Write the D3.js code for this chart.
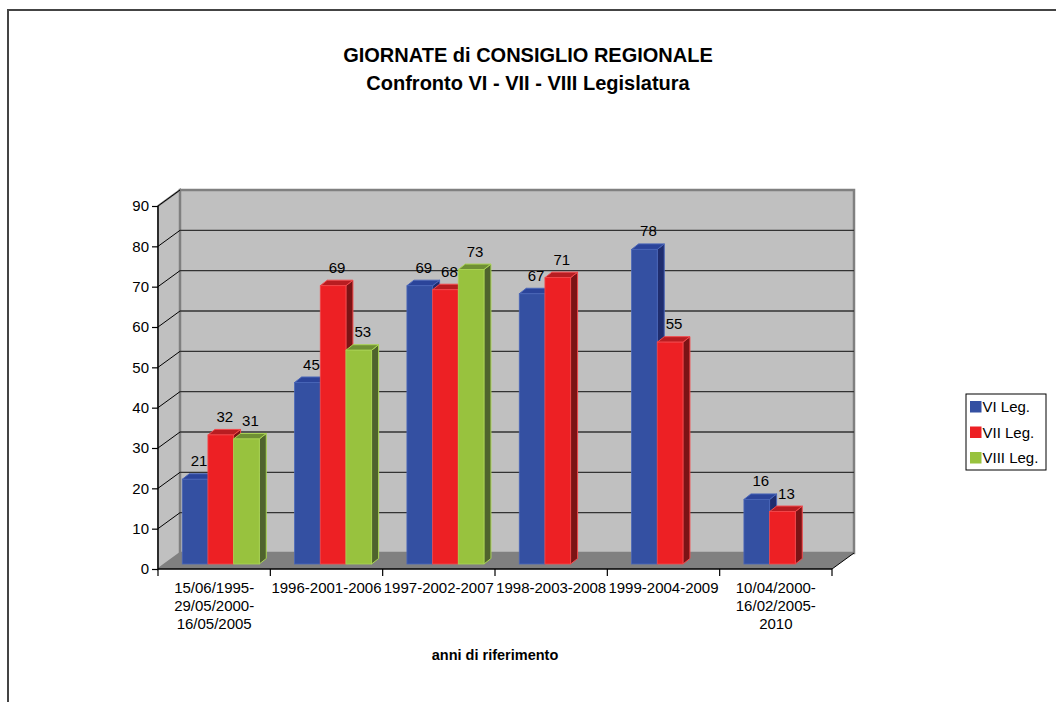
<!DOCTYPE html>
<html>
<head>
<meta charset="utf-8">
<script src="https://cdn.jsdelivr.net/npm/d3@7"></script>
<style>
  html, body { margin: 0; padding: 0; background: #fff; }
  svg { display: block; font-family: "Liberation Sans", Arial, sans-serif; }
</style>
</head>
<body>
<svg id="chart" width="1056" height="702"></svg>
<script>
// Data: days of regional council sittings per legislature
const categories = [
  ["15/06/1995-", "29/05/2000-", "16/05/2005"],
  ["1996-2001-2006"],
  ["1997-2002-2007"],
  ["1998-2003-2008"],
  ["1999-2004-2009"],
  ["10/04/2000-", "16/02/2005-", "2010"]
];
const seriesNames = ["VI Leg.", "VII Leg.", "VIII Leg."];
const seriesVI   = [21, 45, 69, 67, 78, 16];
const seriesVII  = [32, 69, 68, 71, 55, 13];
const seriesVIII = [31, 53, 73, null, null, null];
const yTicks = [0, 10, 20, 30, 40, 50, 60, 70, 80, 90];

const seriesValues = [seriesVI, seriesVII, seriesVIII];
const palette = [
  { front: "#3450a2", top: "#2b449a", side: "#1f2d6e", edge: "#4a66b8" },
  { front: "#ed2024", top: "#b81d21", side: "#7c1315", edge: "#f2494c" },
  { front: "#98c23e", top: "#6f8f34", side: "#4f632d", edge: "#aad454" }
];

const svg = d3.select("#chart");

// outer frame
svg.append("rect").attr("x", 8).attr("y", 10).attr("width", 1060).attr("height", 710)
  .attr("fill", "none").attr("stroke", "#444").attr("stroke-width", 2);

// title
const title = svg.append("text").attr("text-anchor", "middle")
  .attr("font-weight", "bold").attr("font-size", 20).attr("fill", "#000");
title.append("tspan").attr("x", 528).attr("y", 62).text("GIORNATE di CONSIGLIO REGIONALE");
title.append("tspan").attr("x", 528).attr("y", 90).text("Confronto VI - VII - VIII Legislatura");

// 3D plot geometry
const x0 = 158, x1 = 832;
const depth = { dx: 22, dy: -16 };     // wall depth
const barShift = { dx: 6.6, dy: -5 };  // bar row position inside the depth
const barDepth = { dx: 7, dy: -5.5 };  // bar thickness

const y = d3.scaleLinear().domain([0, 90]).range([569, 206]);
const xCat = d3.scaleBand().domain(d3.range(categories.length)).range([x0, x1]).padding(0);
const xSer = d3.scaleBand().domain(d3.range(seriesNames.length))
  .range([0, xCat.bandwidth()]).paddingInner(0).paddingOuter(0.688);

const g = svg.append("g");

// floor
g.append("polygon")
  .attr("points", [[x0, y(0)], [x1, y(0)], [x1 + depth.dx, y(0) + depth.dy], [x0 + depth.dx, y(0) + depth.dy]].join(" "))
  .attr("fill", "#808080");

// side wall
g.append("polygon")
  .attr("points", [[x0, y(0)], [x0, y(90)], [x0 + depth.dx, y(90) + depth.dy], [x0 + depth.dx, y(0) + depth.dy]].join(" "))
  .attr("fill", "#c0c0c0").attr("stroke", "#808080").attr("stroke-width", 2);

// back wall
g.append("rect")
  .attr("x", x0 + depth.dx).attr("y", y(90) + depth.dy)
  .attr("width", x1 - x0).attr("height", y(0) - y(90))
  .attr("fill", "#c0c0c0").attr("stroke", "#808080").attr("stroke-width", 2.5);

// gridlines on back wall and side wall
yTicks.filter(t => t > 0 && t < 90).forEach(t => {
  g.append("line")
    .attr("x1", x0 + depth.dx).attr("x2", x1 + depth.dx)
    .attr("y1", y(t) + depth.dy).attr("y2", y(t) + depth.dy)
    .attr("stroke", "#333").attr("stroke-width", 1.3);
});
yTicks.filter(t => t > 0).forEach(t => {
  g.append("line")
    .attr("x1", x0).attr("y1", y(t))
    .attr("x2", x0 + depth.dx).attr("y2", y(t) + depth.dy)
    .attr("stroke", "#000").attr("stroke-width", 1);
});

// floor back edge redraw
g.append("line")
  .attr("x1", x0 + depth.dx).attr("x2", x1 + depth.dx)
  .attr("y1", y(0) + depth.dy).attr("y2", y(0) + depth.dy)
  .attr("stroke", "#808080").attr("stroke-width", 1);

// bars
const bars = [];
categories.forEach((c, ci) => {
  seriesValues.forEach((vals, si) => {
    const v = vals[ci];
    if (v == null) return;
    bars.push({ ci, si, v });
  });
});

const barG = g.append("g");
bars.forEach(b => {
  const col = palette[b.si];
  const bx = xCat(b.ci) + xSer(b.si) + barShift.dx;
  const bw = xSer.bandwidth();
  const yb = y(0) + barShift.dy;
  const yt = y(b.v) + barShift.dy;
  const dx = barDepth.dx, dy = barDepth.dy;
  const bg = barG.append("g");
  // side face
  bg.append("polygon")
    .attr("points", [[bx + bw, yb], [bx + bw, yt], [bx + bw + dx, yt + dy], [bx + bw + dx, yb + dy]].join(" "))
    .attr("fill", col.side).attr("stroke", col.edge).attr("stroke-width", 1).attr("stroke-linejoin", "round");
  // top face
  bg.append("polygon")
    .attr("points", [[bx, yt], [bx + bw, yt], [bx + bw + dx, yt + dy], [bx + dx, yt + dy]].join(" "))
    .attr("fill", col.top).attr("stroke", col.edge).attr("stroke-width", 1).attr("stroke-linejoin", "round");
  // front face
  bg.append("rect")
    .attr("x", bx).attr("y", yt).attr("width", bw).attr("height", yb - yt)
    .attr("fill", col.front).attr("stroke", col.edge).attr("stroke-width", 0.8);
});

// value labels
bars.forEach(b => {
  const bx = xCat(b.ci) + xSer(b.si) + barShift.dx;
  g.append("text")
    .attr("x", bx + xSer.bandwidth() / 2 + 4)
    .attr("y", y(b.v) + barShift.dy - 13)
    .attr("text-anchor", "middle").attr("font-size", 15).attr("fill", "#000")
    .text(b.v);
});

// front axes
g.append("line").attr("x1", x0).attr("x2", x0).attr("y1", y(90)).attr("y2", y(0))
  .attr("stroke", "#000").attr("stroke-width", 1.3);
g.append("line").attr("x1", x0).attr("x2", x1).attr("y1", y(0)).attr("y2", y(0))
  .attr("stroke", "#000").attr("stroke-width", 1.3);
g.append("line").attr("x1", x1).attr("y1", y(0)).attr("x2", x1 + depth.dx).attr("y2", y(0) + depth.dy)
  .attr("stroke", "#000").attr("stroke-width", 1);

// y axis ticks and labels
const yAxis = d3.axisLeft(y).tickValues(yTicks).tickSize(6).tickPadding(3);
const yAx = g.append("g").attr("transform", `translate(${x0},0)`).call(yAxis);
yAx.select(".domain").remove();
yAx.selectAll("line").attr("stroke", "#000").attr("stroke-width", 1.2);
yAx.selectAll("text").attr("font-size", 15).attr("font-family", "Liberation Sans, Arial, sans-serif").attr("fill", "#000");

// x axis ticks at category boundaries
const bounds = d3.range(categories.length + 1).map(i => x0 + i * xCat.step());
bounds.forEach(bx => {
  g.append("line").attr("x1", bx).attr("x2", bx).attr("y1", y(0)).attr("y2", y(0) + 7)
    .attr("stroke", "#000").attr("stroke-width", 1.2);
});

// category labels
categories.forEach((lines, ci) => {
  const t = g.append("text").attr("text-anchor", "middle").attr("font-size", 15).attr("fill", "#000");
  lines.forEach((ln, li) => {
    t.append("tspan").attr("x", xCat(ci) + xCat.bandwidth() / 2).attr("y", 593 + li * 18).text(ln);
  });
});

// x axis title
svg.append("text").attr("x", 495).attr("y", 660).attr("text-anchor", "middle")
  .attr("font-weight", "bold").attr("font-size", 14.5).attr("fill", "#000")
  .text("anni di riferimento");

// legend
const lg = svg.append("g").attr("transform", "translate(966,394)");
lg.append("rect").attr("width", 80).attr("height", 76)
  .attr("fill", "#fff").attr("stroke", "#000").attr("stroke-width", 1);
seriesNames.forEach((name, i) => {
  const ry = 13 + i * 25.5;
  lg.append("rect").attr("x", 4).attr("y", ry - 6).attr("width", 11.5).attr("height", 11.5)
    .attr("fill", palette[i].front);
  lg.append("text").attr("x", 16.5).attr("y", ry + 5).attr("font-size", 15).attr("fill", "#000").text(name);
});
</script>
</body>
</html>
